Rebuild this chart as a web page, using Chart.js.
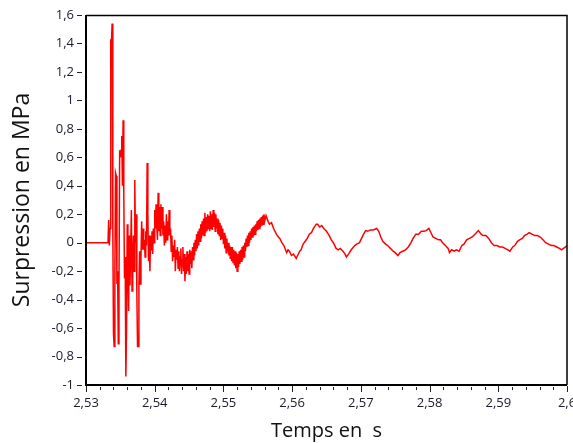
<!DOCTYPE html>
<html>
<head>
<meta charset="utf-8">
<script src="https://cdn.jsdelivr.net/npm/chart.js@4.4.1/dist/chart.umd.min.js"></script>
<style>
  html, body { margin: 0; padding: 0; background: #fff; }
  canvas { display: block; }
</style>
</head>
<body>
<canvas id="pressureChart" width="573" height="443"></canvas>
<script>
const times = [
  2.5300, 2.5332, 2.5333, 2.5334, 2.5335, 2.5336, 2.5337, 2.5338, 2.5339, 2.5340,
  2.5341, 2.5342, 2.5343, 2.5344, 2.5345, 2.5346, 2.5347, 2.5348, 2.5349, 2.5350,
  2.5351, 2.5352, 2.5353, 2.5354, 2.5355, 2.5356, 2.5357, 2.5358, 2.5359, 2.5360,
  2.5361, 2.5362, 2.5363, 2.5364, 2.5365, 2.5366, 2.5367, 2.5368, 2.5369, 2.5370,
  2.5371, 2.5372, 2.5373, 2.5374, 2.5375, 2.5376, 2.5377, 2.5378, 2.5379, 2.5380,
  2.5381, 2.5382, 2.5383, 2.5384, 2.5385, 2.5386, 2.5387, 2.5388, 2.5389, 2.5390,
  2.5391, 2.5392, 2.5393, 2.5394, 2.5395, 2.5396, 2.5397, 2.5398, 2.5399, 2.5400,
  2.5401, 2.5402, 2.5403, 2.5404, 2.5405, 2.5406, 2.5407, 2.5408, 2.5409, 2.5410,
  2.5411, 2.5412, 2.5413, 2.5414, 2.5415, 2.5416, 2.5417, 2.5418, 2.5419, 2.5420,
  2.5421, 2.5422, 2.5423, 2.5424, 2.5425, 2.5426, 2.5427, 2.5428, 2.5429, 2.5430,
  2.5431,
  2.5432, 2.5433, 2.5434, 2.5435, 2.5436, 2.5437, 2.5438, 2.5439,
  2.5440, 2.5441, 2.5442, 2.5443, 2.5444, 2.5445, 2.5446, 2.5447,
  2.5448, 2.5449, 2.5450, 2.5451, 2.5452, 2.5453, 2.5454, 2.5455,
  2.5456, 2.5457, 2.5458, 2.5459, 2.5460, 2.5461, 2.5462, 2.5463,
  2.5464, 2.5465, 2.5466, 2.5467, 2.5468, 2.5469, 2.5470, 2.5471,
  2.5472, 2.5473, 2.5474, 2.5475, 2.5476, 2.5477, 2.5478, 2.5479,
  2.5480, 2.5481, 2.5482, 2.5483, 2.5484, 2.5485, 2.5486, 2.5487,
  2.5488, 2.5489, 2.5490, 2.5491, 2.5492, 2.5493, 2.5494, 2.5495,
  2.5496, 2.5497, 2.5498, 2.5499, 2.5500, 2.5501, 2.5502, 2.5503,
  2.5504, 2.5505, 2.5506, 2.5507, 2.5508, 2.5509, 2.5510, 2.5511,
  2.5512, 2.5513, 2.5514, 2.5515, 2.5516, 2.5517, 2.5518, 2.5519,
  2.5520, 2.5521, 2.5522, 2.5523, 2.5524, 2.5525, 2.5526, 2.5527,
  2.5528, 2.5529, 2.5530, 2.5531, 2.5532, 2.5533, 2.5534, 2.5535,
  2.5536, 2.5537, 2.5538, 2.5539, 2.5540, 2.5541, 2.5542, 2.5543,
  2.5544, 2.5545, 2.5546, 2.5547, 2.5548, 2.5549, 2.5550, 2.5551,
  2.5552, 2.5553, 2.5554, 2.5555, 2.5556, 2.5557, 2.5558, 2.5559,
  2.5560,
  2.5562, 2.5565, 2.5567, 2.5570, 2.5573, 2.5577, 2.5580, 2.5582, 2.5585, 2.5588,
  2.5592, 2.5594, 2.5596, 2.5599, 2.5602, 2.5606, 2.5608, 2.5611, 2.5613, 2.5616,
  2.5619, 2.5622, 2.5625, 2.5628, 2.5631, 2.5635, 2.5637, 2.5640, 2.5643, 2.5646,
  2.5650, 2.5654, 2.5657, 2.5660, 2.5664, 2.5667, 2.5670, 2.5674, 2.5677, 2.5679,
  2.5682, 2.5686, 2.5691, 2.5694, 2.5698, 2.5701, 2.5704, 2.5707, 2.5710, 2.5714,
  2.5718, 2.5723, 2.5726, 2.5729, 2.5732, 2.5736, 2.5739, 2.5743, 2.5747, 2.5750,
  2.5754, 2.5757, 2.5761, 2.5765, 2.5769, 2.5773, 2.5776, 2.5780, 2.5784, 2.5788,
  2.5792, 2.5795, 2.5799, 2.5802, 2.5805, 2.5809, 2.5813, 2.5816, 2.5819, 2.5823,
  2.5827, 2.5829, 2.5832, 2.5836, 2.5839, 2.5843, 2.5847, 2.5850, 2.5854, 2.5858,
  2.5862, 2.5866, 2.5871, 2.5875, 2.5878, 2.5882, 2.5886, 2.5890, 2.5894, 2.5898,
  2.5902, 2.5906, 2.5910, 2.5914, 2.5917, 2.5921, 2.5924, 2.5928, 2.5931, 2.5935,
  2.5938, 2.5942, 2.5945, 2.5949, 2.5953, 2.5957, 2.5961, 2.5965, 2.5969, 2.5973,
  2.5977, 2.5981, 2.5985, 2.5989, 2.5992, 2.5995, 2.5998, 2.6000
];
const pressures = [
  0, 0, 0.16, -0.02, 0.10, 1.43, 1.40, 1.54, 0.10, -0.64,
  -0.73, -0.20, 0.49, 0.47, -0.29, -0.20, -0.71, -0.30, 0.65, 0.60,
  0.65, 0.75, 0.40, 0.86, 0.35, -0.25, -0.10, -0.94, -0.60, 0.13,
  -0.20, -0.48, 0.05, -0.30, -0.05, 0.23, -0.34, -0.10, 0.05, -0.20,
  0.44, 0.00, 0.20, -0.35, -0.73, -0.73, -0.30, -0.06, -0.29, -0.10,
  0.15, -0.05, 0.10, -0.05, 0.02, -0.10, 0.08, -0.02, 0.56, 0.20,
  -0.13, 0.05, -0.20, 0.05, -0.05, 0.08, -0.08, 0.10, 0.00, 0.23,
  0.10, 0.27, 0.12, 0.02, 0.35, 0.08, 0.25, 0.05, 0.27, 0.10,
  0.25, 0.05, 0.15, -0.02, 0.12, 0.00, 0.20, 0.02, 0.15, 0.05,
  0.23, 0.05, 0.10, -0.06, 0.05, -0.13, -0.02, -0.10, 0.02, -0.20,
  -0.05,
  -0.12, -0.03, -0.18, -0.06, -0.20, -0.10, -0.04, -0.22,
  -0.12, -0.03, -0.20, -0.08, -0.27, -0.10, -0.22, -0.06,
  -0.20, -0.08, -0.22, -0.05, -0.15, -0.06, -0.18, -0.03,
  -0.12, 0.00, -0.09, 0.02, -0.06, 0.06, -0.04, 0.08,
  -0.02, 0.10, 0.01, 0.13, 0.03, 0.15, 0.05, 0.17,
  0.05, 0.21, 0.07, 0.18, 0.08, 0.20, 0.10, 0.19,
  0.08, 0.22, 0.10, 0.20, 0.09, 0.23, 0.11, 0.21,
  0.08, 0.20, 0.10, 0.17, 0.06, 0.16, 0.05, 0.14,
  0.02, 0.12, 0.03, 0.10, -0.01, 0.07, -0.04, 0.05,
  -0.07, 0.03, -0.06, 0.00, -0.09, -0.02, -0.11, -0.03,
  -0.13, -0.03, -0.14, -0.05, -0.16, -0.06, -0.18, -0.07,
  -0.20, -0.08, -0.17, -0.06, -0.15, -0.05, -0.13, -0.03,
  -0.12, -0.02, -0.10, 0.00, -0.06, 0.03, -0.03, 0.05,
  -0.02, 0.07, 0.00, 0.08, 0.02, 0.10, 0.04, 0.11,
  0.05, 0.12, 0.06, 0.13, 0.08, 0.15, 0.09, 0.16,
  0.10, 0.17, 0.11, 0.18, 0.12, 0.19, 0.13, 0.20,
  0.15,
  0.19, 0.15, 0.13, 0.14, 0.10, 0.06, 0.04, 0.03, 0.00, -0.02,
  -0.07, -0.05, -0.06, -0.09, -0.08, -0.11, -0.09, -0.06, -0.05, -0.01,
  0.01, 0.03, 0.06, 0.07, 0.10, 0.13, 0.13, 0.11, 0.12, 0.10,
  0.08, 0.05, 0.02, 0.00, -0.04, -0.05, -0.04, -0.06, -0.08, -0.10,
  -0.08, -0.05, -0.02, -0.01, 0.00, 0.03, 0.06, 0.085, 0.08, 0.09,
  0.09, 0.10, 0.08, 0.04, 0.01, -0.01, -0.02, -0.04, -0.06, -0.07,
  -0.09, -0.07, -0.06, -0.05, -0.03, 0.00, 0.03, 0.06, 0.06, 0.08,
  0.08, 0.085, 0.10, 0.07, 0.04, 0.03, 0.02, 0.02, 0.00, -0.02,
  -0.04, -0.07, -0.05, -0.06, -0.05, -0.06, -0.02, -0.01, 0.02, 0.03,
  0.04, 0.06, 0.085, 0.06, 0.05, 0.05, 0.03, 0.00, -0.02, -0.02,
  -0.03, -0.03, -0.04, -0.05, -0.06, -0.03, -0.02, 0.01, 0.02, 0.03,
  0.05, 0.06, 0.07, 0.06, 0.05, 0.05, 0.04, 0.02, 0.00, -0.01,
  -0.02, -0.02, -0.03, -0.04, -0.05, -0.04, -0.03, -0.02
];

const xTicks = [2.53, 2.54, 2.55, 2.56, 2.57, 2.58, 2.59, 2.60];
const xTickLabels = ['2,53', '2,54', '2,55', '2,56', '2,57', '2,58', '2,59', '2,6'];
const yTicks = [-1, -0.8, -0.6, -0.4, -0.2, 0, 0.2, 0.4, 0.6, 0.8, 1, 1.2, 1.4, 1.6];
const yTickLabels = ['-1', '-0,8', '-0,6', '-0,4', '-0,2', '0', '0,2', '0,4', '0,6', '0,8', '1', '1,2', '1,4', '1,6'];

// cadre noir + graduations (majeures et mineures) dessinées via les échelles
const framePlugin = {
  id: 'frame',
  afterDraw(chart) {
    const ctx = chart.ctx;
    const a = chart.chartArea;
    const xs = chart.scales.x, ys = chart.scales.y;
    ctx.save();
    ctx.strokeStyle = '#000';
    ctx.lineWidth = 1.5;
    ctx.beginPath();
    ctx.moveTo(a.left, a.top + 0.5);
    ctx.lineTo(a.right, a.top + 0.5);
    ctx.lineTo(a.right, a.bottom);
    ctx.stroke();
    ctx.lineWidth = 2;
    ctx.beginPath();
    ctx.moveTo(a.left, a.top);
    ctx.lineTo(a.left, a.bottom);
    ctx.lineTo(a.right, a.bottom);
    ctx.stroke();

    ctx.lineWidth = 1;
    ctx.strokeStyle = '#222';
    ctx.beginPath();
    xTicks.forEach((v, i) => {
      const px = Math.round(xs.getPixelForValue(v)) + 0.5;
      ctx.moveTo(px, a.bottom + 1);
      ctx.lineTo(px, a.bottom + 7);
      if (i < xTicks.length - 1) {
        const step = (xTicks[i + 1] - v) / 5;
        for (let k = 1; k < 5; k++) {
          const mx = Math.round(xs.getPixelForValue(v + k * step)) + 0.5;
          ctx.moveTo(mx, a.bottom + 2);
          ctx.lineTo(mx, a.bottom + 5);
        }
      }
    });
    yTicks.forEach(v => {
      const py = Math.round(ys.getPixelForValue(v)) + 0.5;
      ctx.moveTo(a.left - 9, py);
      ctx.lineTo(a.left - 4, py);
    });
    ctx.stroke();
    ctx.restore();
  }
};

const ctx = document.getElementById('pressureChart').getContext('2d');
const pressureChart = new Chart(ctx, {
  type: 'line',
  data: {
    datasets: [{
      data: times.map((t, i) => ({ x: t, y: pressures[i] })),
      borderColor: '#ff0000',
      borderWidth: 1.5,
      pointRadius: 0,
      tension: 0,
      fill: false
    }]
  },
  options: {
    responsive: false,
    animation: false,
    devicePixelRatio: 1,
    layout: { padding: { top: 15, right: 6, left: 0, bottom: 0 } },
    plugins: {
      legend: { display: false },
      tooltip: { enabled: false }
    },
    scales: {
      x: {
        type: 'linear',
        min: 2.53,
        max: 2.60,
        afterBuildTicks: s => { s.ticks = xTicks.map(v => ({ value: v })); },
        afterFit: s => { s.height = 58; s.paddingLeft = 0; s.paddingRight = 0; },
        grid: { drawOnChartArea: false, drawTicks: false },
        border: { display: false },
        ticks: {
          autoSkip: false,
          maxRotation: 0,
          padding: 10,
          color: '#1a1a2a',
          font: { family: 'Open Sans', size: 13 },
          callback: (v, i) => xTickLabels[i]
        },
        title: {
          display: true,
          text: 'Temps en  s',
          color: '#111',
          font: { family: 'Open Sans', size: 20 },
          padding: { top: 0, bottom: 0 }
        }
      },
      y: {
        min: -1,
        max: 1.6,
        afterBuildTicks: s => { s.ticks = yTicks.map(v => ({ value: v })); },
        afterFit: s => { s.width = 86; s.paddingTop = 0; s.paddingBottom = 0; },
        grid: { drawOnChartArea: false, drawTicks: false },
        border: { display: false },
        ticks: {
          autoSkip: false,
          padding: 12,
          color: '#1a1a2a',
          font: { family: 'Open Sans', size: 13 },
          callback: (v, i) => yTickLabels[i]
        },
        title: {
          display: true,
          text: 'Surpression en MPa',
          color: '#111',
          font: { family: 'Open Sans', size: 23 },
          padding: { top: 9, bottom: 0 }
        }
      }
    }
  },
  plugins: [framePlugin]
});
</script>
</body>
</html>
